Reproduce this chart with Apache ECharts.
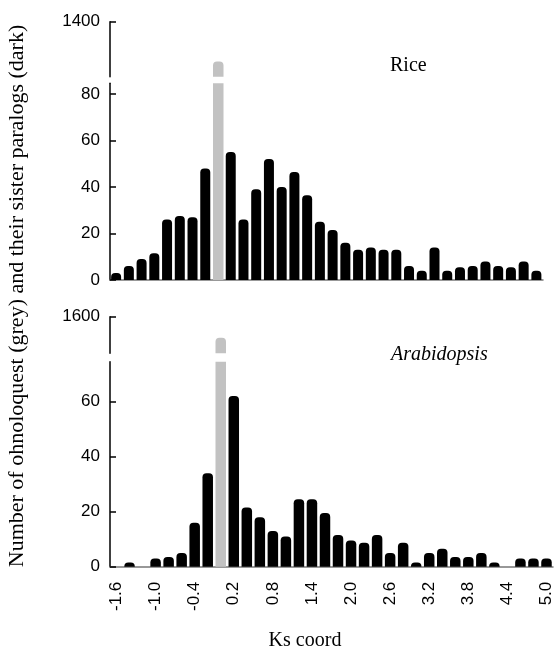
<!DOCTYPE html>
<html>
<head>
<meta charset="utf-8">
<script src="https://cdn.jsdelivr.net/npm/echarts@6/dist/echarts.min.js"></script>
<style>html,body{margin:0;padding:0;background:#fff}#c{width:557px;height:653px}</style>
</head>
<body>
<div id="c"></div>
<script>
// Ks coordinate categories (bin centres)
const categories = ['-1.6','-1.4','-1.2','-1.0','-0.8','-0.6','-0.4','-0.2','0.0','0.2','0.4','0.6','0.8','1.0','1.2','1.4','1.6','1.8','2.0','2.2','2.4','2.6','2.8','3.0','3.2','3.4','3.6','3.8','4.0','4.2','4.4','4.6','4.8','5.0'];
// Rice: sister paralogs (dark), '-' where the ohnologue (grey) bar sits
const riceDark = [3,6,9,11.5,26,27.5,27,48,'-',55,26,39,52,40,46.5,36.5,25,21.5,16,13,14,13,13,6,4,14,4,5.5,6,8,6,5.5,8,4];
const riceGrey = ['-','-','-','-','-','-','-','-',1110,'-','-','-','-','-','-','-','-','-','-','-','-','-','-','-','-','-','-','-','-','-','-','-','-','-'];
// Arabidopsis
const araDark = [0,1.5,0,3,3.5,5,16,34,'-',62,21.5,18,13,11,24.5,24.5,19.5,11.5,9.5,8.7,11.5,5,8.7,1.5,5,6.5,3.5,3.5,5,1.5,0,3,3,3];
const araGrey = ['-','-','-','-','-','-','-','-',1370,'-','-','-','-','-','-','-','-','-','-','-','-','-','-','-','-','-','-','-','-','-','-','-','-','-'];
// tick labels
const riceLowTicks = [0,20,40,60,80];
const riceHighTicks = [1400];
const araLowTicks = [0,20,40,60];
const araHighTicks = [1600];

const SANS = 'Liberation Sans';

function valY(gi, min, max, ticks){
  return {gridIndex:gi, type:'value', min:min, max:max,
    axisLine:{show:true, lineStyle:{color:'#000', width:1.5}},
    axisTick:{show:true, inside:true, length:6, customValues:ticks, lineStyle:{color:'#000', width:1.5}},
    axisLabel:{customValues:ticks, fontSize:17, color:'#000', fontFamily:SANS, margin:10, formatter:function(v){return String(v);}},
    splitLine:{show:false}};
}
function catX(gi, showLine, showLabel){
  return {gridIndex:gi, type:'category', data:categories, show:true,
    axisLine:{show:showLine, lineStyle:{color:'#777', width:1.5}},
    axisTick:{show:false},
    axisLabel:{show:showLabel, interval:2, rotate:90, fontSize:17, color:'#000', fontFamily:SANS, margin:15},
    splitLine:{show:false}};
}
const darkStyle = {color:'#000', borderRadius:[4,4,0,0]};
const greyStyle = {color:'#c2c2c2', borderRadius:[4,4,0,0]};

const option = {
  animation:false,
  grid:[
    {left:110, top:83.3, width:433, height:196.7},
    {left:110, top:21.7, width:433, height:55},
    {left:110, top:361.7, width:443, height:205},
    {left:110, top:316.7, width:443, height:36.6}
  ],
  xAxis:[catX(0,true,false), catX(1,false,false), catX(2,true,true), catX(3,false,false)],
  yAxis:[valY(0,0,84.6,riceLowTicks), valY(1,1000,1400,riceHighTicks), valY(2,0,74.5,araLowTicks), valY(3,1200,1600,araHighTicks)],
  series:[
    {type:'bar', xAxisIndex:0, yAxisIndex:0, data:riceDark, barWidth:10, barGap:'-100%', itemStyle:darkStyle},
    {type:'bar', xAxisIndex:0, yAxisIndex:0, data:riceGrey, barWidth:10.5, barGap:'-100%', itemStyle:{color:'#c2c2c2'}},
    {type:'bar', xAxisIndex:1, yAxisIndex:1, data:riceGrey, barWidth:10.5, itemStyle:greyStyle},
    {type:'bar', xAxisIndex:2, yAxisIndex:2, data:araDark, barWidth:10.5, barGap:'-100%', itemStyle:darkStyle},
    {type:'bar', xAxisIndex:2, yAxisIndex:2, data:araGrey, barWidth:10.5, barGap:'-100%', itemStyle:{color:'#c2c2c2'}},
    {type:'bar', xAxisIndex:3, yAxisIndex:3, data:araGrey, barWidth:10.5, itemStyle:greyStyle}
  ],
  graphic:[
    {type:'text', x:390, y:66, style:{text:'Rice', font:'20px "Liberation Serif"', fill:'#000', textAlign:'left', textVerticalAlign:'middle'}},
    {type:'text', x:391, y:355, style:{text:'Arabidopsis', font:'italic 20px "Liberation Serif"', fill:'#000', textAlign:'left', textVerticalAlign:'middle'}},
    {type:'text', x:305, y:641, style:{text:'Ks coord', font:'20px "Liberation Serif"', fill:'#000', textAlign:'center', textVerticalAlign:'middle'}},
    {type:'text', x:17, y:296, rotation:Math.PI/2, style:{text:'Number of ohnoloquest (grey) and their sister paralogs (dark)', font:'22px "Liberation Serif"', fill:'#000', textAlign:'center', textVerticalAlign:'middle'}}
  ]
};
const chart = echarts.init(document.getElementById('c'), null, {renderer:'canvas'});
chart.setOption(option);
</script>
</body>
</html>
